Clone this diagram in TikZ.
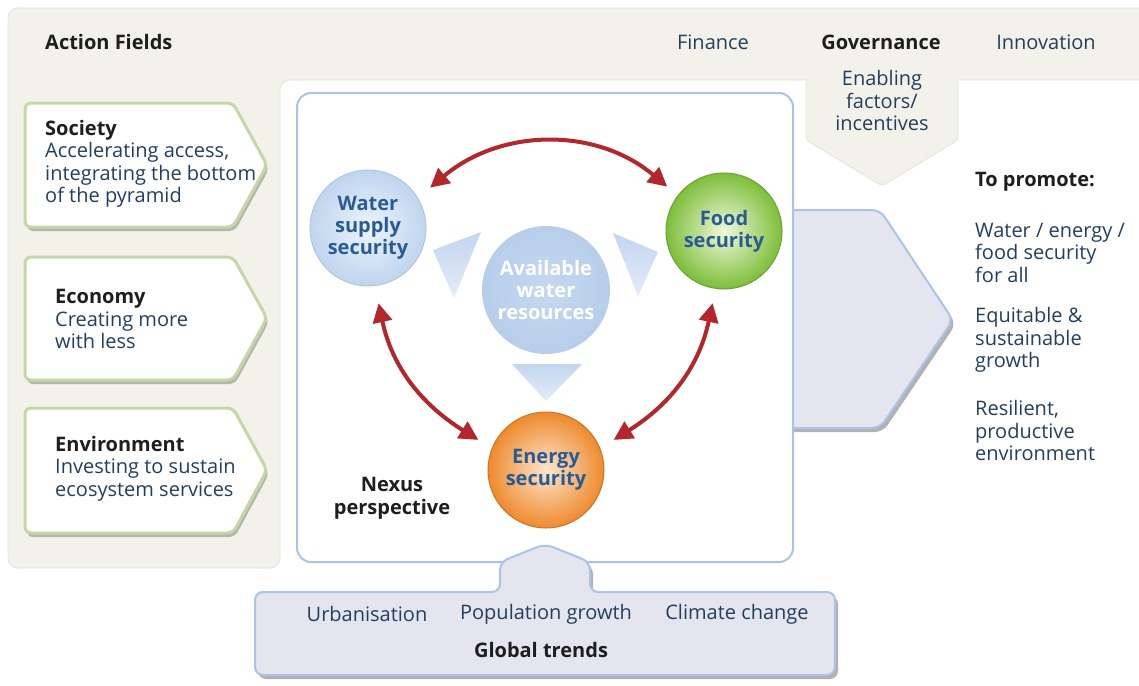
\documentclass[tikz,border=0pt]{standalone}
\usepackage{fontspec}
\setmainfont{Open Sans}
\usetikzlibrary{shadows,calc,arrows.meta}
\definecolor{beige}{HTML}{F3F2EA}
\definecolor{beigeline}{HTML}{E6E4D6}
\definecolor{nexusline}{HTML}{A9C4E8}
\definecolor{lav}{HTML}{E5E5F0}
\definecolor{afline}{HTML}{C3D8A6}
\definecolor{textc}{HTML}{22405E}
\definecolor{headc}{HTML}{1E1E1E}
\definecolor{redc}{HTML}{B3262B}
\definecolor{circtext}{HTML}{2A5C94}
\definecolor{waterin}{HTML}{EEF4FB}
\definecolor{waterout}{HTML}{BFD5EF}
\definecolor{foodin}{HTML}{F0F8DA}
\definecolor{foodout}{HTML}{7DBE3A}
\definecolor{energyin}{HTML}{FCE6CC}
\definecolor{energyout}{HTML}{EE8A2E}
\definecolor{availc}{HTML}{B7CEEB}
\definecolor{wedgec}{HTML}{BDD2EE}
\begin{document}
\begin{tikzpicture}[x=1pt,y=-1pt,
  txt/.style={font=\fontsize{20}{22.5}\selectfont, text=textc, inner sep=0pt, align=left},
  ctxtc/.style={font=\fontsize{20}{22.5}\selectfont, text=textc, inner sep=0pt, align=center},
  hd/.style={font=\fontsize{20}{22.5}\selectfont\bfseries, text=headc, inner sep=0pt},
  circtxt/.style={font=\fontsize{20}{22}\selectfont\bfseries, align=center, inner sep=0pt, circle, minimum size=116pt},
  afbox/.style={draw=afline, line width=3pt, fill=white, rounded corners=6,
     drop shadow={shadow xshift=2pt, shadow yshift=-4pt, fill=black, opacity=0.25}},
  lavbox/.style={draw=nexusline, line width=2pt, fill=lav, rounded corners=8,
     drop shadow={shadow xshift=3pt, shadow yshift=-4pt, fill=black, opacity=0.3}},
  redarrow/.style={draw=redc, line width=4pt, {Triangle[width=19pt,length=19pt]}-{Triangle[width=19pt,length=19pt]}},
  wedge/.style={top color=wedgec, bottom color=wedgec!45, opacity=0.9}
]
\useasboundingbox (0,0) rectangle (1139,685);
% background panel
\fill[white] (0,0) rectangle (1139,685);
\draw[beigeline, fill=beige, rounded corners=10, line width=0.8pt]
  (8,8) -- (1150,8) -- (1150,80) -- (280,80) -- (280,568) -- (8,568) -- cycle;
% enabling factors pentagon
\draw[beigeline, fill=beige, line width=0.8pt, rounded corners=4]
  (806,79) -- (806,140) -- (882,186) -- (958,140) -- (958,79);
\fill[beige] (808,70) rectangle (956,81);
% left action field boxes
\draw[afbox] (25,103) -- (233,103) -- (267,165) -- (233,227) -- (25,227) -- cycle;
\draw[afbox] (25,257) -- (233,257) -- (267,318) -- (233,380) -- (25,380) -- cycle;
\draw[afbox] (25,408) -- (233,408) -- (267,470) -- (233,533) -- (25,533) -- cycle;
% big right arrow
\draw[lavbox] (760,210) -- (880,210) -- (953,320) -- (880,428) -- (760,428) -- cycle;
% nexus box
\draw[nexusline, line width=2pt, fill=white, rounded corners=14] (297,93) rectangle (793,562);
% wedges
\shade[wedge] (433,250) -- (481,232) -- (454,298) -- cycle;
\shade[wedge] (613,233) -- (658,252) -- (638,296) -- cycle;
\shade[wedge] (512,364) -- (582,364) -- (546,401) -- cycle;
% circles
\node[circtxt, minimum size=128pt, inner color=availc!80, outer color=availc, text=white] (avail) at (546,290) {Available\\water\\resources};
\node[circtxt, inner color=waterin, outer color=waterout, draw=waterout!90!black, line width=0.8pt, text=circtext] (water) at (368,228) {Water\\supply\\security};
\node[circtxt, inner color=foodin, outer color=foodout, draw=foodout!85!black, line width=1pt, text=circtext] (food) at (724,231) {Food\\security};
\node[circtxt, inner color=energyin, outer color=energyout, draw=energyout!85!black, line width=1pt, text=circtext] (energy) at (546,470) {Energy\\security};
% red arrows
\draw[redarrow] ($(water.center)+(33:74pt)$) to[out=40,in=140] ($(food.center)+(142:72pt)$);
\draw[redarrow] ($(water.center)+(-82:76pt)$) to[out=-78,in=148] ($(energy.center)+(156:74pt)$);
\draw[redarrow] ($(food.center)+(-99:73pt)$) to[out=-102,in=32] ($(energy.center)+(24:74pt)$);
% global trends box
\draw[lavbox] (255,592) -- (500,592) -- (500,562) -- (545,544) -- (590,562) -- (590,592)
  -- (835,592) -- (835,675) -- (255,675) -- cycle;
% texts
\node[hd, anchor=west] (actionfields) at (45,42) {Action Fields};
\node[txt] (finance) at (713,42) {Finance};
\node[hd] (governance) at (881,42) {Governance};
\node[txt] (innovation) at (1046,42) {Innovation};
\node[ctxtc] (enabling) at (882,100.5) {Enabling\\factors/\\incentives};
\node[txt, anchor=west] (society) at (45,164) {\textcolor{headc}{\textbf{Society}}\\Accelerating access,\\integrating the bottom\\of the pyramid};
\node[txt, anchor=west] (economy) at (55,319) {\textcolor{headc}{\textbf{Economy}}\\Creating more\\with less};
\node[txt, anchor=west] (environment) at (55,468.5) {\textcolor{headc}{\textbf{Environment}}\\Investing to sustain\\ecosystem services};
\node[hd, align=center] (nexus) at (392,498.5) {Nexus\\perspective};
\node[hd, anchor=west] (promote) at (975,182) {To promote:};
\node[txt, anchor=west] (goal1) at (975,252.5) {Water / energy /\\food security\\for all};
\node[txt, anchor=west] (goal2) at (975,340) {Equitable \&\\sustainable\\growth};
\node[txt, anchor=west] (goal3) at (975,430.5) {Resilient,\\productive\\environment};
\node[txt] (urban) at (367,614) {Urbanisation};
\node[txt] (popgrowth) at (546,614) {Population growth};
\node[txt] (climate) at (737,614) {Climate change};
\node[hd] (globaltrends) at (541,650) {Global trends};
\end{tikzpicture}
\end{document}
